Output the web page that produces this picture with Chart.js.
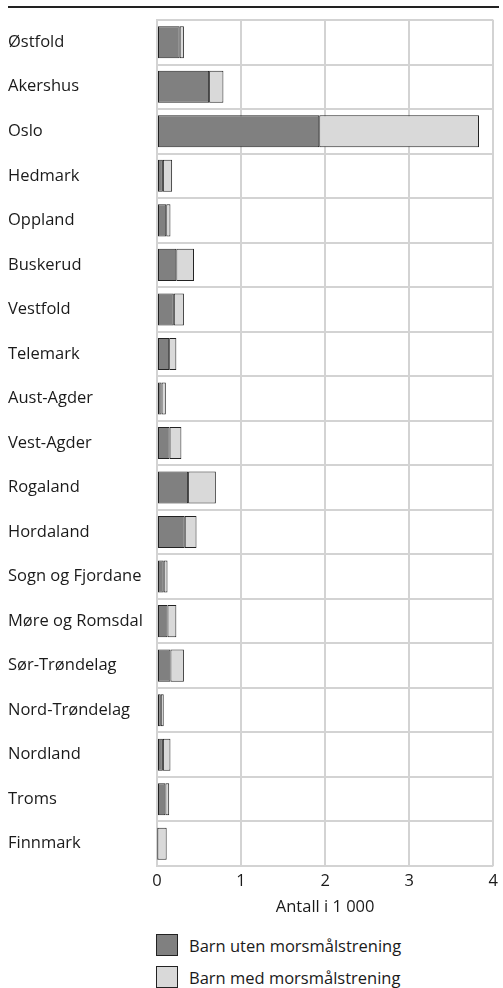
<!DOCTYPE html>
<html>
<head>
<meta charset="utf-8">
<script src="https://cdn.jsdelivr.net/npm/chart.js@4/dist/chart.umd.min.js"></script>
<style>
  body { margin: 0; background: #fff; font-family: "Open Sans", sans-serif; color: #1a1a1a; }
  #wrap { position: relative; width: 503px; height: 988px; }
  #topline { position: absolute; left: 8px; top: 6px; width: 491px; height: 0; border-top: 2px solid #222; }
  #chartBox { position: absolute; left: 0; top: 0; width: 503px; height: 925px; }
  #legend { position: absolute; left: 156px; top: 929px; font-size: 16.5px; }
  .item { display: flex; align-items: center; height: 32px; }
  .box { width: 22px; height: 22px; border: 1px solid #222; box-sizing: border-box; margin-right: 11px; }
</style>
</head>
<body>
<div id="wrap">
  <div id="topline"></div>
  <div id="chartBox"><canvas id="myChart"></canvas></div>
  <div id="legend"></div>
</div>
<script>
const counties = [
  "Østfold", "Akershus", "Oslo", "Hedmark", "Oppland", "Buskerud", "Vestfold",
  "Telemark", "Aust-Agder", "Vest-Agder", "Rogaland", "Hordaland",
  "Sogn og Fjordane", "Møre og Romsdal", "Sør-Trøndelag", "Nord-Trøndelag",
  "Nordland", "Troms", "Finnmark"
];

// antall i 1 000
const utenTrening = [
  0.27, 0.62, 1.93, 0.07, 0.11, 0.23, 0.20, 0.145, 0.055, 0.15,
  0.37, 0.33, 0.08, 0.125, 0.16, 0.045, 0.07, 0.10, 0.005
];
const medTrening = [
  0.05, 0.17, 1.90, 0.11, 0.05, 0.21, 0.12, 0.085, 0.05, 0.14,
  0.33, 0.14, 0.045, 0.105, 0.16, 0.035, 0.09, 0.045, 0.11
];

const xTicks = [0, 1, 2, 3, 4];
const seriesNames = ["Barn uten morsmålstrening", "Barn med morsmålstrening"];
const seriesColors = ["#808080", "#d9d9d9"];

const font = { family: "Open Sans", size: 16.5 };
Chart.defaults.color = "#1a1a1a";

const chart = new Chart(document.getElementById("myChart"), {
  type: "bar",
  data: {
    labels: counties,
    datasets: [
      {
        label: seriesNames[0],
        data: utenTrening,
        backgroundColor: seriesColors[0],
        borderColor: "#222",
        borderWidth: 1,
        borderSkipped: false,
        barPercentage: 0.72,
        categoryPercentage: 1,
      },
      {
        label: seriesNames[1],
        data: medTrening,
        backgroundColor: seriesColors[1],
        borderColor: "#222",
        borderWidth: 1,
        borderSkipped: false,
        barPercentage: 0.72,
        categoryPercentage: 1,
      },
    ],
  },
  options: {
    indexAxis: "y",
    responsive: true,
    maintainAspectRatio: false,
    animation: false,
    layout: { padding: { left: 8, right: 6, top: 20, bottom: 8 } },
    plugins: {
      legend: { display: false },
      tooltip: { enabled: false },
    },
    scales: {
      x: {
        stacked: true,
        min: 0,
        max: 4,
        afterBuildTicks: (scale) => {
          scale.ticks = xTicks.map((v) => ({ value: v }));
        },
        afterFit: (scale) => {
          scale.height = 51;
        },
        grid: { color: "#d3d3d3", lineWidth: 2, drawTicks: false },
        border: { display: false },
        ticks: { font: font, padding: 5, maxRotation: 0 },
        title: {
          display: true,
          text: "Antall i 1 000",
          font: font,
          padding: { top: 0, bottom: 0 },
        },
      },
      y: {
        stacked: true,
        afterFit: (scale) => {
          scale.width = 149;
        },
        grid: { color: "#d3d3d3", lineWidth: 2, drawTicks: false, offset: true },
        border: { color: "#d3d3d3", width: 2 },
        ticks: { font: font, crossAlign: "far", padding: 8 },
      },
    },
  },
});

const legendDiv = document.getElementById("legend");
seriesNames.forEach((name, i) => {
  const item = document.createElement("div");
  item.className = "item";
  const box = document.createElement("div");
  box.className = "box";
  box.style.background = seriesColors[i];
  const txt = document.createElement("span");
  txt.textContent = name;
  item.appendChild(box);
  item.appendChild(txt);
  legendDiv.appendChild(item);
});
</script>
</body>
</html>
